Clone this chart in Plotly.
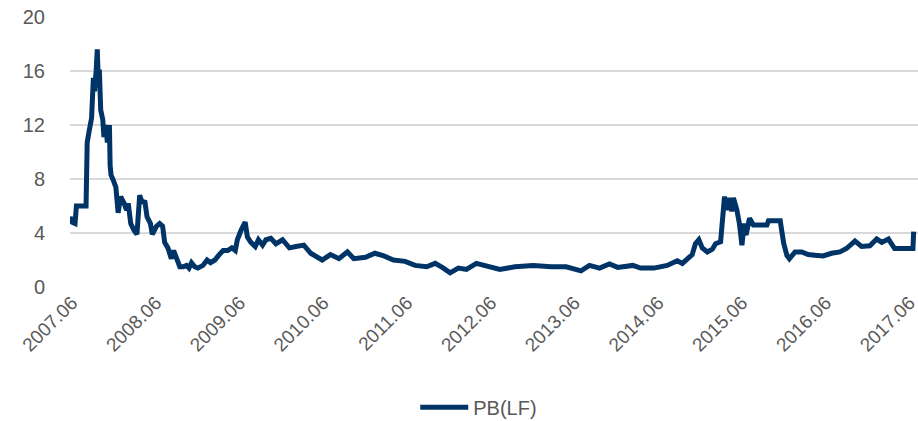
import plotly.graph_objects as go

dates = [
    "2007-05-23", "2007-06-01", "2007-06-14", "2007-06-20", "2007-08-01", "2007-08-06",
    "2007-08-14", "2007-08-18", "2007-08-25", "2007-09-02", "2007-09-07", "2007-09-14",
    "2007-09-19", "2007-09-23", "2007-09-28", "2007-10-04", "2007-10-13", "2007-10-18",
    "2007-10-26", "2007-11-02", "2007-11-11", "2007-11-14", "2007-11-18", "2007-11-28",
    "2007-12-09", "2007-12-19", "2007-12-30", "2008-01-14", "2008-01-25", "2008-02-01",
    "2008-02-12", "2008-02-26", "2008-03-10", "2008-03-22", "2008-04-03", "2008-04-13",
    "2008-04-23", "2008-05-08", "2008-05-16", "2008-06-03", "2008-06-17", "2008-06-30",
    "2008-07-09", "2008-07-23", "2008-08-07", "2008-08-17", "2008-08-29", "2008-09-13",
    "2008-09-27", "2008-10-12", "2008-10-23", "2008-11-03", "2008-11-17", "2008-12-01",
    "2008-12-23", "2009-01-10", "2009-01-25", "2009-02-13", "2009-03-04", "2009-03-21",
    "2009-04-10", "2009-04-28", "2009-05-13", "2009-05-22", "2009-06-07", "2009-06-25",
    "2009-07-05", "2009-07-20", "2009-08-08", "2009-08-22", "2009-09-09", "2009-09-24",
    "2009-10-15", "2009-11-06", "2009-12-05", "2010-01-04", "2010-02-02", "2010-03-08",
    "2010-04-07", "2010-05-05", "2010-05-27", "2010-07-02", "2010-08-08", "2010-09-14",
    "2010-10-12", "2010-12-02", "2011-01-12", "2011-02-20", "2011-04-03", "2011-05-24",
    "2011-07-06", "2011-08-26", "2011-10-02", "2011-11-07", "2011-12-06", "2012-01-11",
    "2012-02-15", "2012-03-30", "2012-05-13", "2012-07-10", "2012-09-14", "2012-12-02",
    "2013-02-20", "2013-04-25", "2013-06-29", "2013-08-05", "2013-09-18", "2013-10-31",
    "2013-12-06", "2014-02-10", "2014-03-16", "2014-05-13", "2014-07-10", "2014-08-23",
    "2014-09-14", "2014-10-06", "2014-10-27", "2014-11-10", "2014-11-25", "2014-12-10",
    "2015-01-01", "2015-01-23", "2015-02-06", "2015-02-28", "2015-03-10", "2015-03-17",
    "2015-03-27", "2015-04-08", "2015-04-18", "2015-04-25", "2015-05-10", "2015-05-21",
    "2015-06-01", "2015-06-11", "2015-06-19", "2015-07-04", "2015-07-21", "2015-09-18",
    "2015-09-25", "2015-11-15", "2015-11-30", "2015-12-14", "2015-12-25", "2016-01-19",
    "2016-02-17", "2016-03-16", "2016-04-14", "2016-05-20", "2016-06-26", "2016-08-01",
    "2016-08-30", "2016-10-06", "2016-11-04", "2016-12-10", "2017-01-09", "2017-01-31",
    "2017-03-01", "2017-03-28", "2017-06-16", "2017-06-19",
]

pb_lf = [
    5.2, 4.8, 4.7, 6.0, 6.0, 10.7,
    11.5, 12.0, 12.5, 15.5, 14.5, 16.0,
    17.6, 15.5, 16.1, 13.1, 12.4, 11.1,
    12.0, 10.7, 12.0, 9.0, 8.3, 7.9,
    7.4, 5.5, 6.7, 6.2, 5.7, 6.2,
    4.7, 4.2, 3.9, 6.8, 6.2, 6.4,
    5.2, 4.7, 3.9, 4.5, 4.7, 4.5,
    3.3, 2.9, 2.1, 2.7, 2.1, 1.5,
    1.5, 1.6, 1.4, 1.8, 1.5, 1.4,
    1.6, 2.0, 1.8, 2.0, 2.4, 2.7,
    2.7, 2.9, 2.7, 3.5, 4.2, 4.8,
    3.7, 3.3, 3.0, 3.5, 3.1, 3.5,
    3.6, 3.2, 3.5, 2.9, 3.0, 3.1,
    2.5, 2.2, 2.0, 2.4, 2.1, 2.6,
    2.1, 2.2, 2.5, 2.3, 2.0, 1.9,
    1.6, 1.5, 1.75, 1.4, 1.05, 1.4,
    1.3, 1.75, 1.55, 1.3, 1.5, 1.6,
    1.5, 1.5, 1.2, 1.6, 1.4, 1.7,
    1.45, 1.6, 1.4, 1.4, 1.6, 1.95,
    1.75, 2.1, 2.4, 3.2, 3.5, 2.9,
    2.6, 2.8, 3.2, 3.35, 5.2, 6.7,
    5.7, 6.6, 5.6, 6.6, 5.7, 4.7,
    3.1, 4.7, 3.85, 5.1, 4.6, 4.6,
    4.9, 4.9, 3.25, 2.35, 2.1, 2.6,
    2.6, 2.4, 2.35, 2.3, 2.5, 2.6,
    2.85, 3.4, 3.0, 3.05, 3.55, 3.3,
    3.55, 2.85, 2.85, 4.1,
]

tick_dates = ["2007-06-01", "2008-06-01", "2009-06-01", "2010-06-01", "2011-06-01",
              "2012-06-01", "2013-06-01", "2014-06-01", "2015-06-01", "2016-06-01",
              "2017-06-01"]
tick_labels = ["2007.06", "2008.06", "2009.06", "2010.06", "2011.06", "2012.06",
               "2013.06", "2014.06", "2015.06", "2016.06", "2017.06"]
y_ticks = [0, 4, 8, 12, 16, 20]

LINE = "#003366"
GREY = "#595959"
FONT = "Liberation Sans, Arial, sans-serif"

fig = go.Figure()
fig.add_trace(go.Scatter(
    x=dates, y=pb_lf, mode="lines", name="PB(LF)",
    line=dict(color=LINE, width=5, shape="linear"),
    cliponaxis=False,
))

fig.update_layout(
    width=918, height=421,
    margin=dict(l=70, r=0, t=17, b=134, autoexpand=False),
    paper_bgcolor="white", plot_bgcolor="white",
    font=dict(family=FONT, color=GREY, size=20),
    showlegend=True,
    legend=dict(orientation="h", x=0.482, xanchor="center", y=-0.445, yanchor="middle",
                font=dict(size=20, color=GREY), itemwidth=48),
    xaxis=dict(
        type="date", range=["2007-05-23", "2017-07-08"],
        tickvals=tick_dates, ticktext=tick_labels, tickangle=-45,
        showgrid=False, zeroline=False, showline=False, ticks="",
        tickfont=dict(size=19, color=GREY), automargin=False,
        ticklabeloverflow="allow",
    ),
    yaxis=dict(
        range=[0, 20], tickvals=y_ticks, showgrid=True, gridcolor="#d9d9d9",
        gridwidth=1.5, zeroline=False, showline=False, ticks="",
        tickfont=dict(size=20, color=GREY), ticklabelstandoff=24, automargin=False,
        ticklabeloverflow="allow",
    ),
)

fig.write_html("out.html",
               config={"displayModeBar": False},
               post_script="document.body.style.margin='0';document.body.style.overflow='hidden';")
